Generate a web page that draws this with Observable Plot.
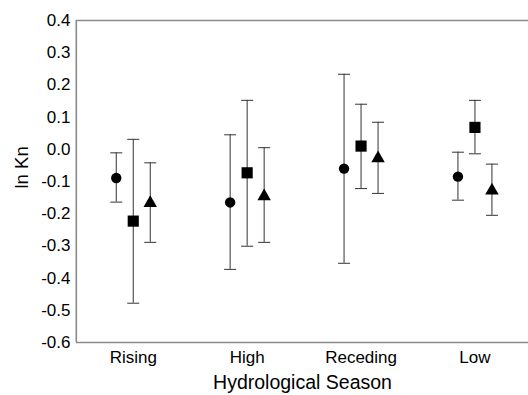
<!DOCTYPE html>
<html>
<head>
<meta charset="utf-8">
<script src="https://cdn.jsdelivr.net/npm/d3@7"></script>
<script src="https://cdn.jsdelivr.net/npm/@observablehq/plot@0.6"></script>
<style>
html, body { margin: 0; padding: 0; background: #fff; overflow: hidden; }
</style>
</head>
<body>
<div id="chart"></div>
<script>
const seasons = ["Rising", "High", "Receding", "Low"];
const circleMean = [-0.089, -0.165, -0.060, -0.085];
const circleLo   = [-0.164, -0.373, -0.354, -0.158];
const circleHi   = [-0.011,  0.045,  0.233, -0.009];
const squareMean = [-0.223, -0.073,  0.010,  0.068];
const squareLo   = [-0.478, -0.301, -0.122, -0.014];
const squareHi   = [ 0.031,  0.152,  0.140,  0.152];
const triMean    = [-0.167, -0.146, -0.028, -0.128];
const triLo      = [-0.289, -0.289, -0.137, -0.205];
const triHi      = [-0.042,  0.005,  0.084, -0.046];
const yTicks = [0.4, 0.3, 0.2, 0.1, 0.0, -0.1, -0.2, -0.3, -0.4, -0.5, -0.6];
const yTitle = "ln Kn";
const xTitle = "Hydrological Season";

const build = (mean, lo, hi) => seasons.map((s, i) => ({i, season: s, mean: mean[i], lo: lo[i], hi: hi[i]}));
const series = [
  {data: build(circleMean, circleLo, circleHi), symbol: "circle", r: 5.2, dx: -17},
  {data: build(squareMean, squareLo, squareHi), symbol: "square", r: 6.3, dx: 0},
  {data: build(triMean, triLo, triHi), symbol: "triangle", r: 5.0, dx: 17}
];

const capSymbol = {draw(context, size) { context.moveTo(-6, 0); context.lineTo(6, 0); }};

const marks = [
  Plot.ruleY([0.4, -0.6], {stroke: "#8a8a8a", strokeWidth: 1.6}),
  Plot.ruleX([-0.5], {stroke: "#8a8a8a", strokeWidth: 1.6}),
  Plot.axisY(yTicks, {tickSize: 0, tickPadding: 6, fontSize: 17, tickFormat: d => d.toFixed(1), label: null}),
  Plot.axisX([0, 1, 2, 3], {tickSize: 0, tickPadding: 8, fontSize: 17, tickFormat: i => seasons[i], label: null}),
  Plot.text([yTitle], {frameAnchor: "left", dx: -54, dy: 7, rotate: -90, fontSize: 18.5, fill: "black"}),
  Plot.text([xTitle], {frameAnchor: "bottom", dy: 46, fontSize: 19.5, fill: "black"})
];
for (const s of series) {
  marks.push(Plot.ruleX(s.data, {x: "i", y1: "lo", y2: "hi", dx: s.dx, stroke: "#333", strokeWidth: 1}));
  marks.push(Plot.dot(s.data, {x: "i", y: "lo", dx: s.dx, symbol: capSymbol, stroke: "#333", strokeWidth: 1, fill: "none"}));
  marks.push(Plot.dot(s.data, {x: "i", y: "hi", dx: s.dx, symbol: capSymbol, stroke: "#333", strokeWidth: 1, fill: "none"}));
  marks.push(Plot.dot(s.data, {x: "i", y: "mean", dx: s.dx, symbol: s.symbol, r: s.r, fill: "black", stroke: "none"}));
}

const chart = Plot.plot({
  width: 528,
  height: 395,
  marginLeft: 76,
  marginRight: 0,
  marginTop: 20,
  marginBottom: 53,
  style: {fontFamily: "'Liberation Sans', Arial, sans-serif", fontSize: "17px", color: "black", background: "white"},
  x: {type: "linear", domain: [-0.5, 3.5], range: [75.8, 531.4]},
  y: {domain: [-0.6, 0.4], range: [342, 20]},
  marks
});
document.getElementById("chart").appendChild(chart);
</script>
</body>
</html>
